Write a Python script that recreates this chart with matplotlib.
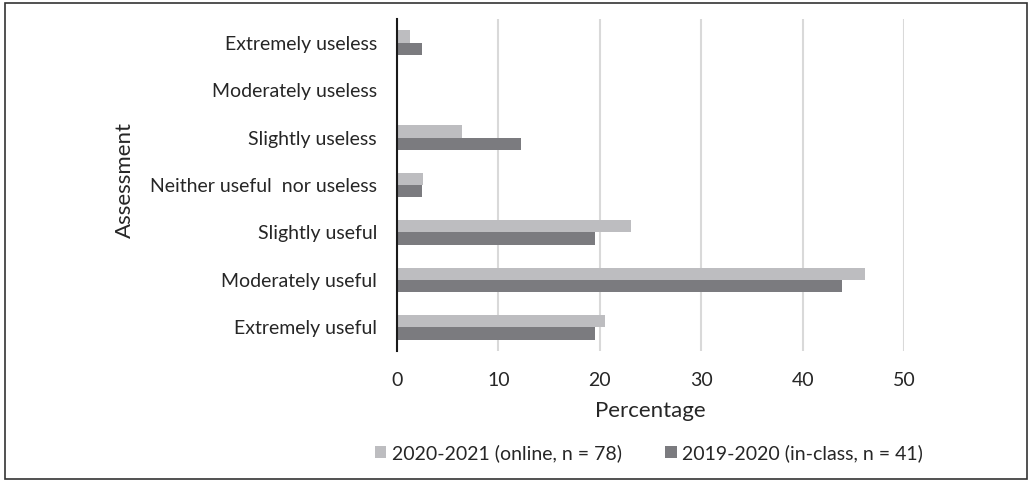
import matplotlib
matplotlib.use("Agg")
import matplotlib.pyplot as plt
from matplotlib.patches import Rectangle, Patch
import numpy as np

plt.rcParams['font.family'] = ['Lato', 'DejaVu Sans']

categories = ["Extremely useless", "Moderately useless", "Slightly useless",
              "Neither useful  nor useless", "Slightly useful",
              "Moderately useful", "Extremely useful"]
online = [1.28, 0.0, 6.41, 2.56, 23.08, 46.15, 20.51]
inclass = [2.44, 0.0, 12.20, 2.44, 19.51, 43.90, 19.51]
series_names = ["2020-2021 (online, n = 78)", "2019-2020 (in-class, n = 41)"]
xticks = [0, 10, 20, 30, 40, 50]

c_light = "#BDBDC0"
c_dark = "#7B7B7F"
txt = "#262626"
fs = 14

fig = plt.figure(figsize=(10.28, 4.8), dpi=100)
ax = fig.add_axes([397/1028, 1-351/480, (904-397)/1028, (351-19)/480])

y = np.arange(len(categories))
h = 0.26
ax.barh(y - h/2, online, height=h, color=c_light, zorder=3)
ax.barh(y + h/2, inclass, height=h, color=c_dark, zorder=3)

ax.set_ylim(len(categories) - 0.5, -0.5)
ax.set_xlim(0, 50)
ax.set_yticks(y)
ax.set_yticklabels(categories, fontsize=fs, color=txt)
ax.set_xticks(xticks)
ax.set_xticklabels([str(t) for t in xticks], fontsize=fs, color=txt)
ax.tick_params(axis='both', length=0)
ax.tick_params(axis='y', pad=14.4)
ax.tick_params(axis='x', pad=15)
ax.grid(axis='x', color='#D9D9D9', linewidth=1.5, zorder=0)
for s in ['top', 'right', 'bottom']:
    ax.spines[s].set_visible(False)
ax.spines['left'].set_color('#1a1a1a')
ax.spines['left'].set_linewidth(1.5)
ax.spines['left'].set_zorder(4)

ax.set_xlabel("Percentage", fontsize=16, color=txt)
ax.xaxis.set_label_coords(0.5, 1 - (411 - 19) / (351 - 19))
ax.xaxis.label.set_va('center')
ax.set_ylabel("Assessment", fontsize=16, color=txt)
ax.yaxis.set_label_coords((125 - 397) / (904 - 397), 1 - (180 - 19) / (351 - 19))
ax.yaxis.label.set_va('center')

handles = [Patch(facecolor=c_light, edgecolor='none'), Patch(facecolor=c_dark, edgecolor='none')]
fig.legend(handles, series_names, loc='center', bbox_to_anchor=(649/1028, 1-453/480),
           ncol=2, frameon=False, fontsize=fs, handlelength=0.6, handleheight=0.6,
           handletextpad=0.3, columnspacing=2.2, labelcolor=txt)

fig.add_artist(Rectangle((5/1028, 1-479/480), (1027-5)/1028, (479-3)/480,
                         transform=fig.transFigure, fill=False, edgecolor='#333333', linewidth=1.2))

fig.savefig("out.png", dpi=100)
